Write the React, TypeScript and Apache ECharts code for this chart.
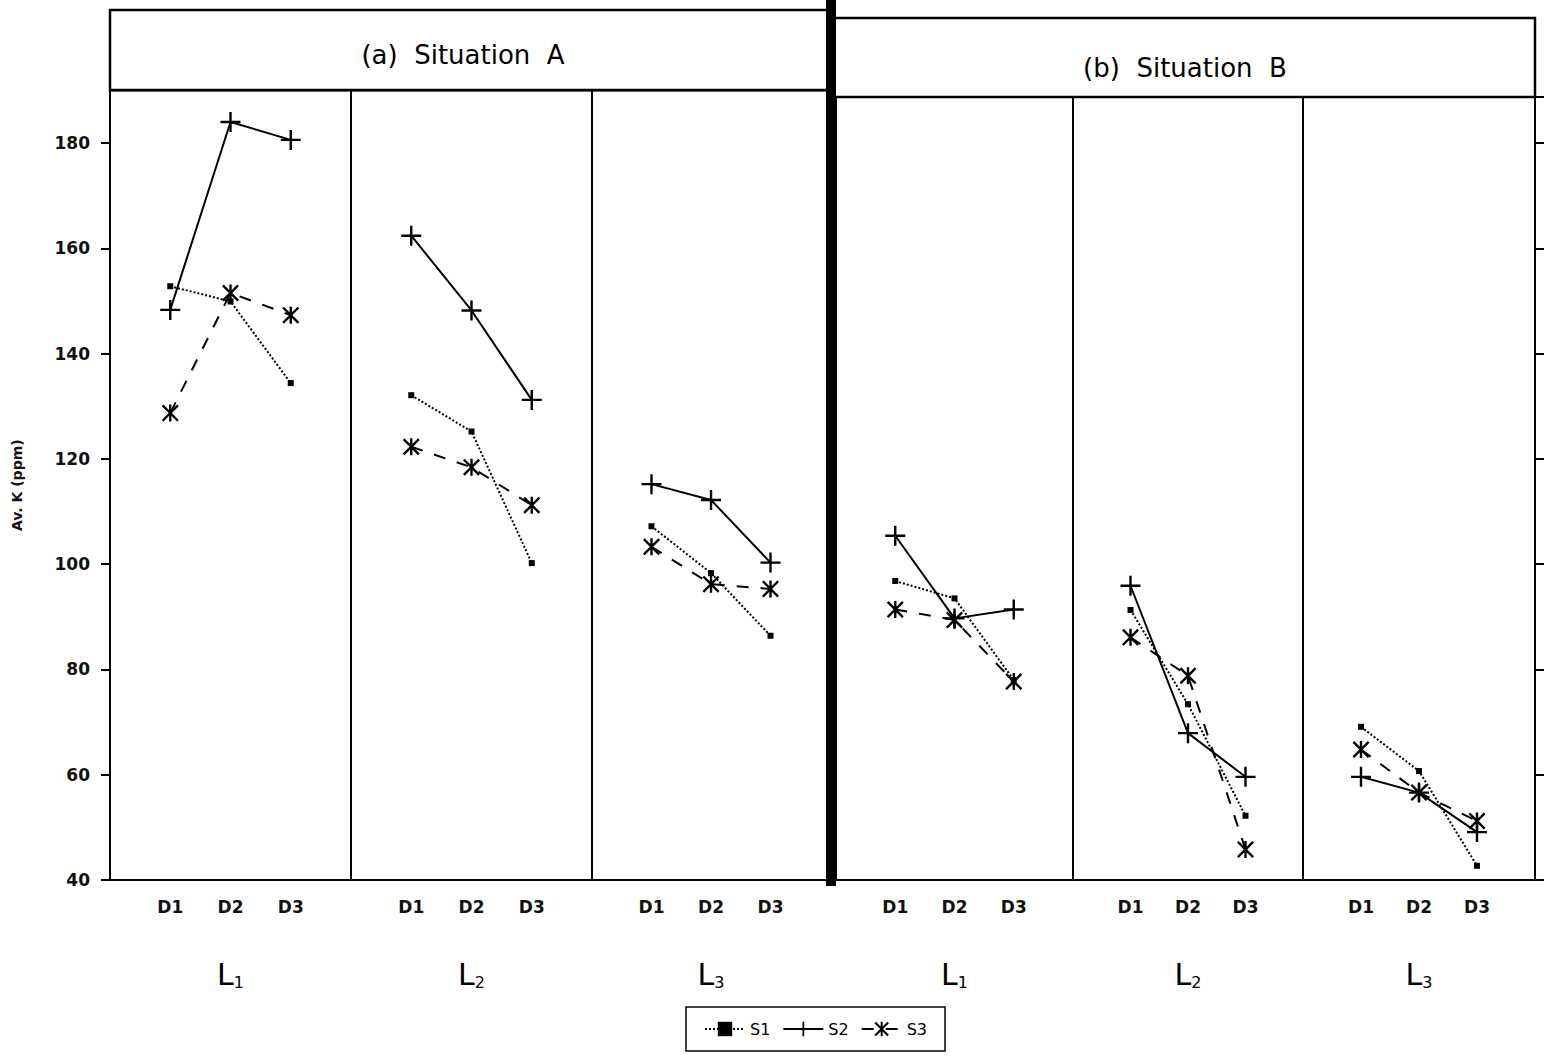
import React, { useEffect, useRef } from "react";
import * as echarts from "echarts";

const days = ["D1", "D2", "D3"];
const levelNames = ["1", "2", "3"];
const seriesNames = ["S1", "S2", "S3"];
const yTicks = [40, 60, 80, 100, 120, 140, 160, 180];

// Situation A, values per level L1 | L2 | L3 (D1, D2, D3)
const sitA_S1 = [[152.8, 149.9, 134.4], [132.1, 125.2, 100.2], [107.2, 98.3, 86.4]];
const sitA_S2 = [[148.3, 184.0, 180.6], [162.4, 148.2, 131.2], [115.2, 112.2, 100.3]];
const sitA_S3 = [[128.7, 151.5, 147.3], [122.3, 118.4, 111.2], [103.3, 96.2, 95.3]];
// Situation B
const sitB_S1 = [[96.8, 93.5, 78.0], [91.3, 73.4, 52.2], [69.1, 60.7, 42.7]];
const sitB_S2 = [[105.4, 89.7, 91.4], [95.9, 67.9, 59.6], [59.6, 56.6, 49.1]];
const sitB_S3 = [[91.4, 89.4, 77.7], [86.1, 78.8, 45.8], [64.8, 56.6, 51.2]];

const PLUS = "path://M4.4,0 H5.6 V4.4 H10 V5.6 H5.6 V10 H4.4 V5.6 H0 V4.4 H4.4 Z";
const STAR =
  "path://M4.3,0 H5.7 V10 H4.3 Z M1,0 L10,9 L9,10 L0,1 Z M9,0 L10,1 L1,10 L0,9 Z";

export default function App() {
  const ref = useRef<HTMLDivElement>(null);
  useEffect(() => {
    if (!ref.current) return;
    const chart = echarts.init(ref.current, undefined, { renderer: "svg" });
    const lefts = [110, 351, 592, 836, 1073, 1303];
    const widths = [241, 241, 238, 237, 230, 232];
    const tops = [90.4, 90.4, 90.4, 97, 97, 97];
    const maxes = [190, 190, 190, 188.75, 188.75, 188.75];
    const panels = [
      [sitA_S1[0], sitA_S2[0], sitA_S3[0]],
      [sitA_S1[1], sitA_S2[1], sitA_S3[1]],
      [sitA_S1[2], sitA_S2[2], sitA_S3[2]],
      [sitB_S1[0], sitB_S2[0], sitB_S3[0]],
      [sitB_S1[1], sitB_S2[1], sitB_S3[1]],
      [sitB_S1[2], sitB_S2[2], sitB_S3[2]],
    ];
    const font = "DejaVu Sans, Liberation Sans, sans-serif";
    const grid = lefts.map((l, i) => ({
      left: l,
      width: widths[i],
      top: tops[i],
      bottom: 176,
      show: true,
      borderColor: "#000",
      borderWidth: 2,
    }));
    const xAxis = lefts.map((_, i) => ({
      type: "value",
      gridIndex: i,
      min: 0,
      max: 4,
      interval: 1,
      axisLine: { show: false },
      axisTick: { show: false },
      splitLine: { show: false },
      axisLabel: {
        margin: 18,
        fontSize: 17,
        fontWeight: "bold",
        fontFamily: font,
        color: "#111",
        formatter: (v: number) => days[v - 1] ?? "",
      },
      name: `{a|L}{b|${levelNames[i % 3]}}`,
      nameLocation: "middle",
      nameGap: 78,
      nameTextStyle: {
        rich: {
          a: { fontSize: 30, fontFamily: "DejaVu Sans", color: "#000" },
          b: { fontSize: 16, fontFamily: "DejaVu Sans", color: "#000", padding: [16, 0, 0, 0] },
        },
      },
    }));
    const yAxis = lefts.map((_, i) => ({
      type: "value",
      gridIndex: i,
      min: 40,
      max: maxes[i],
      interval: 20,
      show: i === 0 || i === 5,
      position: i === 5 ? "right" : "left",
      axisLine: { show: false, onZero: false },
      axisTick: { show: true, length: 9, lineStyle: { color: "#000", width: 2 } },
      splitLine: { show: false },
      axisLabel: {
        show: i === 0,
        showMaxLabel: false,
        margin: 20,
        fontSize: 17,
        fontWeight: "bold",
        fontFamily: font,
        color: "#111",
        formatter: (v: number) => (yTicks.includes(v) ? String(v) : ""),
      },
      name: i === 0 ? "Av. K (ppm)" : "",
      nameLocation: "middle",
      nameGap: 86,
      nameTextStyle: { fontSize: 14, fontWeight: "bold", fontFamily: font, color: "#111" },
    }));
    const lineTypes: any[] = ["dotted", "solid", [12, 12]];
    const symbols = ["rect", PLUS, STAR];
    const sizes = [6, 20, 17];
    const series: any[] = [];
    panels.forEach((p, gi) => {
      p.forEach((vals, si) => {
        series.push({
          type: "line",
          name: seriesNames[si],
          xAxisIndex: gi,
          yAxisIndex: gi,
          data: vals.map((v, k) => [k + 1, v]),
          symbol: symbols[si],
          symbolSize: sizes[si],
          showSymbol: true,
          lineStyle: { color: "#000", width: 2, type: lineTypes[si] },
          itemStyle: { color: "#000" },
          z: 3 + si,
        });
      });
    });
    chart.setOption({
      animation: false,
      backgroundColor: "#fff",
      grid,
      xAxis,
      yAxis,
      series,
      legend: {
        data: seriesNames,
        left: 686,
        top: 1007,
        orient: "horizontal",
        borderColor: "#000",
        borderWidth: 1.5,
        padding: [14, 18, 14, 18],
        itemGap: 12,
        itemWidth: 40,
        itemHeight: 18,
        textStyle: { fontSize: 16, fontFamily: font, color: "#000" },
      },
      graphic: [
        {
          type: "rect",
          shape: { x: 110, y: 10, width: 720, height: 80 },
          style: { fill: "none", stroke: "#000", lineWidth: 2.5 },
        },
        {
          type: "rect",
          shape: { x: 832, y: 18, width: 703, height: 79 },
          style: { fill: "none", stroke: "#000", lineWidth: 2.5 },
        },
        {
          type: "rect",
          shape: { x: 826, y: 0, width: 10, height: 886 },
          style: { fill: "#000" },
        },
        {
          type: "text",
          x: 463,
          y: 55,
          style: {
            text: "(a)  Situation  A",
            fontSize: 26,
            fontFamily: font,
            fill: "#000",
            align: "center",
            verticalAlign: "middle",
          },
        },
        {
          type: "text",
          x: 1185,
          y: 68,
          style: {
            text: "(b)  Situation  B",
            fontSize: 26,
            fontFamily: font,
            fill: "#000",
            align: "center",
            verticalAlign: "middle",
          },
        },
      ],
    });
    return () => chart.dispose();
  }, []);
  return (
    <div
      ref={ref}
      style={{ position: "absolute", left: 0, top: 0, width: 1545, height: 1056, background: "#fff" }}
    />
  );
}
